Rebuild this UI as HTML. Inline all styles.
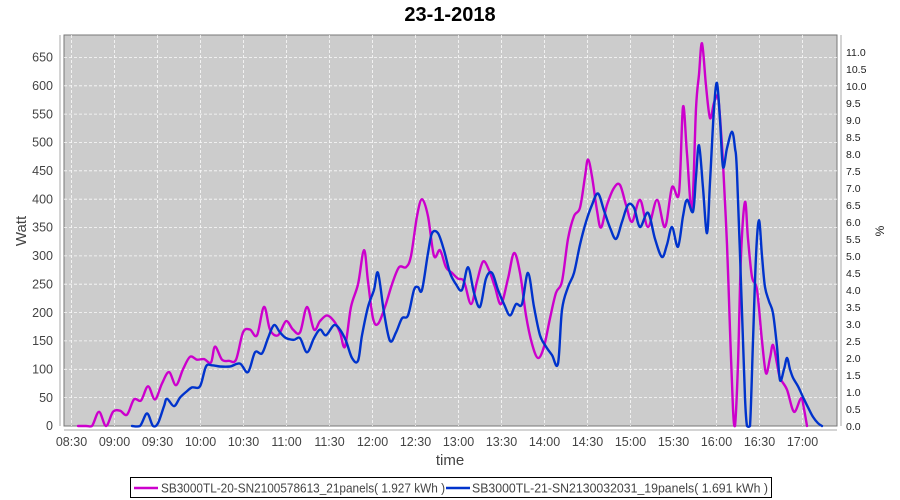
<!DOCTYPE html>
<html><head><meta charset="utf-8"><style>
body{margin:0;background:#fff;}
svg{display:block;font-family:"Liberation Sans",sans-serif;}
</style></head><body>
<svg width="900" height="500" viewBox="0 0 900 500">
<text x="450" y="21" text-anchor="middle" font-size="20" font-weight="bold" fill="#000">23-1-2018</text>
<rect x="64" y="35" width="773" height="391" fill="#cccccc" stroke="#777" stroke-width="1"/>
<g stroke="#fff" stroke-dasharray="3,2" stroke-width="0.8" opacity="0.9">
<line x1="64" x2="837" y1="397.6" y2="397.6"/><line x1="64" x2="837" y1="369.3" y2="369.3"/>
<line x1="64" x2="837" y1="340.9" y2="340.9"/><line x1="64" x2="837" y1="312.6" y2="312.6"/>
<line x1="64" x2="837" y1="284.2" y2="284.2"/><line x1="64" x2="837" y1="255.9" y2="255.9"/>
<line x1="64" x2="837" y1="227.5" y2="227.5"/><line x1="64" x2="837" y1="199.2" y2="199.2"/>
<line x1="64" x2="837" y1="170.8" y2="170.8"/><line x1="64" x2="837" y1="142.5" y2="142.5"/>
<line x1="64" x2="837" y1="114.1" y2="114.1"/><line x1="64" x2="837" y1="85.8" y2="85.8"/>
<line x1="64" x2="837" y1="57.5" y2="57.5"/>
<line y1="35" y2="426" x1="71.5" x2="71.5"/><line y1="35" y2="426" x1="114.5" x2="114.5"/>
<line y1="35" y2="426" x1="157.5" x2="157.5"/><line y1="35" y2="426" x1="200.5" x2="200.5"/>
<line y1="35" y2="426" x1="243.5" x2="243.5"/><line y1="35" y2="426" x1="286.5" x2="286.5"/>
<line y1="35" y2="426" x1="329.5" x2="329.5"/><line y1="35" y2="426" x1="372.5" x2="372.5"/>
<line y1="35" y2="426" x1="415.5" x2="415.5"/><line y1="35" y2="426" x1="458.5" x2="458.5"/>
<line y1="35" y2="426" x1="501.5" x2="501.5"/><line y1="35" y2="426" x1="544.5" x2="544.5"/>
<line y1="35" y2="426" x1="587.5" x2="587.5"/><line y1="35" y2="426" x1="630.5" x2="630.5"/>
<line y1="35" y2="426" x1="673.5" x2="673.5"/><line y1="35" y2="426" x1="716.5" x2="716.5"/>
<line y1="35" y2="426" x1="759.5" x2="759.5"/><line y1="35" y2="426" x1="802.5" x2="802.5"/>
</g>
<line x1="60" x2="60" y1="35" y2="426" stroke="#aaa"/>
<g font-size="12.5" fill="#444" text-anchor="end">
<text x="53" y="430">0</text><text x="53" y="373.5">100</text><text x="53" y="401.8">50</text>
<text x="53" y="345">150</text><text x="53" y="316.8">200</text><text x="53" y="288.4">250</text>
<text x="53" y="260">300</text><text x="53" y="231.7">350</text><text x="53" y="203.4">400</text>
<text x="53" y="175">450</text><text x="53" y="146.7">500</text><text x="53" y="118.3">550</text>
<text x="53" y="90">600</text><text x="53" y="61.7">650</text>
</g>
<text transform="translate(26,231) rotate(-90)" text-anchor="middle" font-size="15" fill="#444">Watt</text>
<line x1="841" x2="841" y1="35" y2="426" stroke="#aaa"/>
<g font-size="10.5" fill="#222">
<text x="846" y="430">0.0</text><text x="846" y="413">0.5</text><text x="846" y="396">1.0</text>
<text x="846" y="379">1.5</text><text x="846" y="362">2.0</text><text x="846" y="345">2.5</text>
<text x="846" y="328">3.0</text><text x="846" y="311">3.5</text><text x="846" y="294">4.0</text>
<text x="846" y="277">4.5</text><text x="846" y="260">5.0</text><text x="846" y="243">5.5</text>
<text x="846" y="226">6.0</text><text x="846" y="209">6.5</text><text x="846" y="192">7.0</text>
<text x="846" y="175">7.5</text><text x="846" y="158">8.0</text><text x="846" y="141">8.5</text>
<text x="846" y="124">9.0</text><text x="846" y="107">9.5</text><text x="846" y="90">10.0</text>
<text x="846" y="73">10.5</text><text x="846" y="56">11.0</text>
</g>
<text transform="translate(884,231) rotate(-90)" text-anchor="middle" font-size="12" fill="#222">%</text>
<line x1="64" x2="837" y1="430" y2="430" stroke="#aaa"/>
<g font-size="12.5" fill="#444" text-anchor="middle">
<text x="71.5" y="446">08:30</text><text x="114.5" y="446">09:00</text><text x="157.5" y="446">09:30</text>
<text x="200.5" y="446">10:00</text><text x="243.5" y="446">10:30</text><text x="286.5" y="446">11:00</text>
<text x="329.5" y="446">11:30</text><text x="372.5" y="446">12:00</text><text x="415.5" y="446">12:30</text>
<text x="458.5" y="446">13:00</text><text x="501.5" y="446">13:30</text><text x="544.5" y="446">14:00</text>
<text x="587.5" y="446">14:30</text><text x="630.5" y="446">15:00</text><text x="673.5" y="446">15:30</text>
<text x="716.5" y="446">16:00</text><text x="759.5" y="446">16:30</text><text x="802.5" y="446">17:00</text>
</g>
<text x="450" y="465" text-anchor="middle" font-size="15" fill="#444">time</text>
<g fill="none" stroke-width="2.4" stroke-linejoin="round" stroke-linecap="round">
<path id="m" stroke="#cc00cc" d=""/>
<path id="b" stroke="#0033cc" d=""/>
</g>
<rect x="130.5" y="477.5" width="641" height="20" fill="#fff" stroke="#000"/>
<line x1="134" x2="158" y1="488" y2="488" stroke="#cc00cc" stroke-width="2.4"/>
<text x="161" y="492.5" font-size="12.5" fill="#444" textLength="284" lengthAdjust="spacingAndGlyphs">SB3000TL-20-SN2100578613_21panels( 1.927 kWh )</text>
<line x1="446" x2="470" y1="488" y2="488" stroke="#0033cc" stroke-width="2.4"/>
<text x="472" y="492.5" font-size="12.5" fill="#444" textLength="296" lengthAdjust="spacingAndGlyphs">SB3000TL-21-SN2130032031_19panels( 1.691 kWh )</text>
</svg>
<script>
var M=[78,0,86,0,92,0,99,25,106,0,113,25,120,27,127,20,134,47,141,45,148,70,155,47,162,75,169,95,176,72,183,100,190,122,197,117,204,118,211,112,215,140,222,117,229,115,236,117,243,165,250,170,257,160,264,210,270,170,278,160,286,185,293,170,300,165,307,210,314,170,320,185,327,195,334,185,340,165,345,140,351,210,358,250,364,310,368,255,373,190,378,180,385,210,392,250,399,280,406,280,411,300,417,370,422,400,428,370,434,300,440,310,446,280,452,270,458,260,464,255,471,215,477,255,483,290,489,275,495,245,501,215,508,260,514,305,520,270,526,195,532,145,538,120,544,140,550,190,556,235,562,255,568,330,574,370,580,385,585,440,588,470,592,440,597,380,601,350,607,390,614,420,620,425,626,390,632,360,640,399,648,351,657,399,665,351,672,421,679,411,683,563,687,480,692,381,696,560,699,620,702,675,706,600,710,543,714,570,718,580,721,520,723,464,727,320,730,169,733,30,735,0,738,110,741,300,745,395,748,330,752,263,757,240,762,150,766,93,770,120,773,143,777,110,780,85,787,64,794,25,801,49,804,30,807,0];
var B=[132,0,140,0,147,22,153,0,158,5,164,35,167,48,174,35,180,50,186,60,192,68,200,70,206,105,212,107,220,105,230,105,240,110,248,95,255,130,262,128,268,155,274,178,280,165,286,155,294,152,300,155,307,130,314,155,320,170,326,160,334,178,340,170,346,150,352,120,358,115,362,160,368,210,374,240,378,270,384,200,390,150,396,165,402,190,408,195,414,240,418,245,422,240,428,305,432,340,438,340,444,310,450,270,456,250,462,240,468,280,474,235,480,210,486,260,492,270,498,240,504,215,510,195,516,215,522,215,528,270,534,210,540,160,546,140,552,125,558,110,562,205,568,245,574,270,580,320,586,360,592,390,598,410,604,380,610,350,616,330,622,360,628,390,634,385,640,351,648,376,655,330,662,298,667,320,672,351,678,316,683,370,687,399,693,378,696,440,699,495,703,420,707,340,710,430,714,560,717,605,720,540,723,457,727,490,732,519,735,490,737,446,742,200,745,50,747,0,750,0,753,150,756,300,759,363,762,300,765,245,769,220,773,199,777,140,780,81,784,100,787,120,790,100,793,85,798,70,803,51,808,33,813,16,818,5,822,0];
function path(a){var p=[];for(var i=0;i<a.length;i+=2)p.push([a[i],426-a[i+1]*0.567]);
var d="M"+p[0][0]+","+p[0][1].toFixed(1);
for(var i=0;i<p.length-1;i++){var p0=p[i>0?i-1:i],p1=p[i],p2=p[i+1],p3=p[i+2<p.length?i+2:i+1];
var c1x=p1[0]+(p2[0]-p0[0])/6,c1y=p1[1]+(p2[1]-p0[1])/6,c2x=p2[0]-(p3[0]-p1[0])/6,c2y=p2[1]-(p3[1]-p1[1])/6;
c1y=Math.min(c1y,427);c2y=Math.min(c2y,427);
d+=" C"+c1x.toFixed(1)+","+c1y.toFixed(1)+" "+c2x.toFixed(1)+","+c2y.toFixed(1)+" "+p2[0]+","+p2[1].toFixed(1);}
return d;}
document.getElementById("m").setAttribute("d",path(M));
document.getElementById("b").setAttribute("d",path(B));
</script>
</body></html>
